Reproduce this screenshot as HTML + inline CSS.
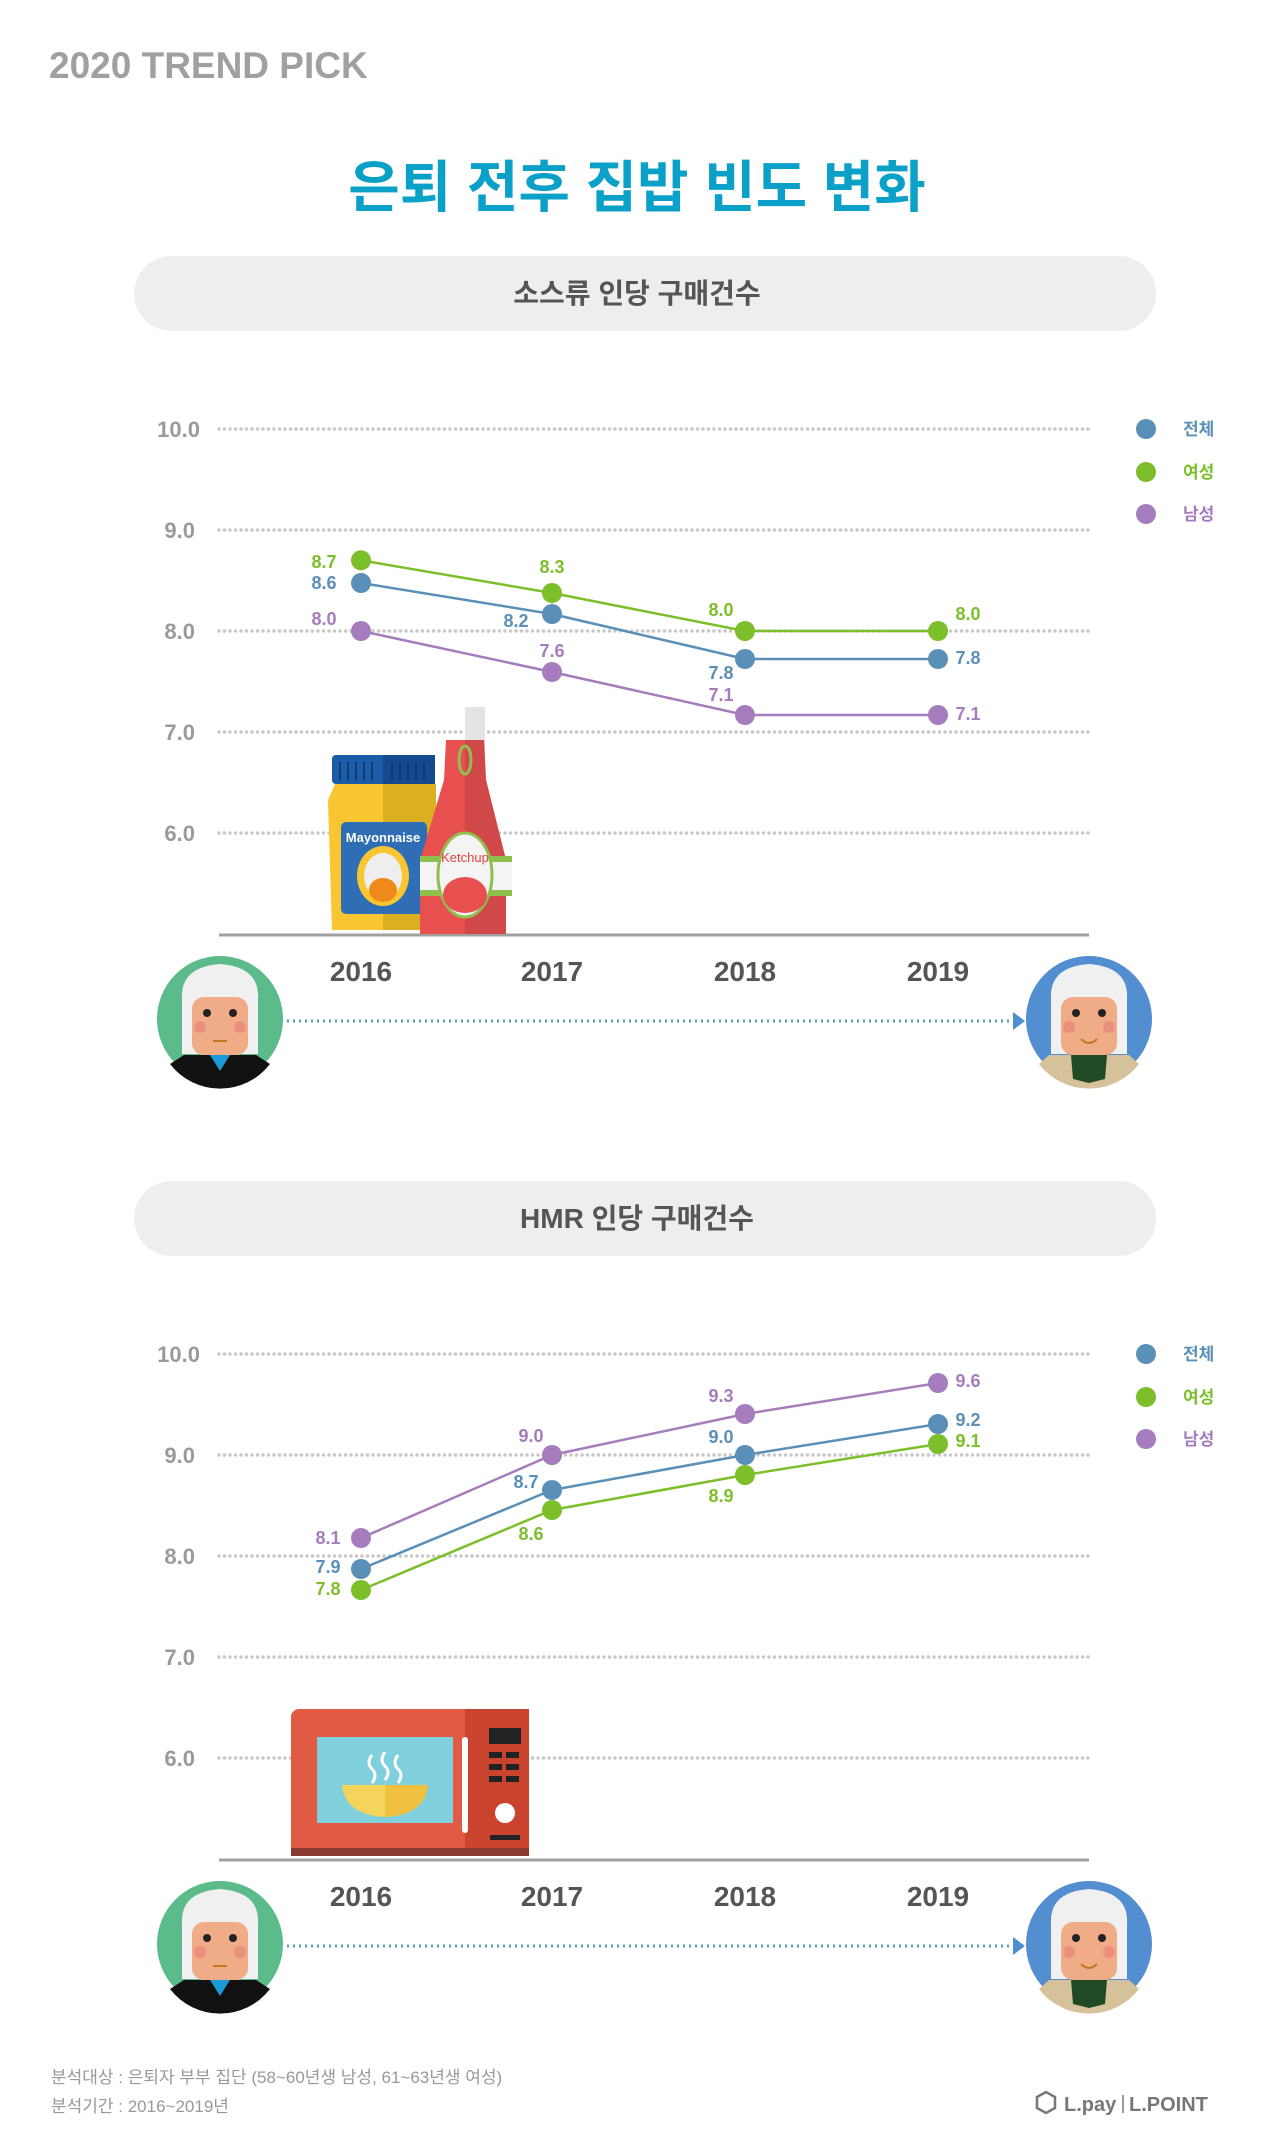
<!DOCTYPE html>
<html><head><meta charset="utf-8"><style>
html,body{margin:0;padding:0;background:#fff;}
svg{display:block;}
text{font-family:"Liberation Sans","Noto Sans CJK KR",sans-serif;}
</style></head><body>
<svg width="1280" height="2135" viewBox="0 0 1280 2135" xmlns="http://www.w3.org/2000/svg">
<defs>
<g id="oldL">
  <circle cx="0" cy="0" r="63" fill="#5bbb8a"/>
  <path d="M-38,-20 Q-40,-52 0,-55 Q40,-52 38,-20 L38,35 L-38,35 Z" fill="#f0f0f0"/>
  <rect x="-28" y="-22" width="56" height="58" rx="12" fill="#f0ab87"/>
  <circle cx="-13" cy="-6" r="4" fill="#222"/><circle cx="13" cy="-6" r="4" fill="#222"/>
  <circle cx="-20" cy="8" r="6" fill="#ec8f7f"/><circle cx="20" cy="8" r="6" fill="#ec8f7f"/>
  <path d="M-7,22 L7,22" stroke="#c9741f" stroke-width="2"/>
  <path d="M-36,36 L36,36 L50,45 A63,63 0 0 1 -50,45 Z" fill="#111"/>
  <path d="M-10,36 L0,52 L10,36 Z" fill="#1a9ad6"/>
</g>
<g id="oldR">
  <circle cx="0" cy="0" r="63" fill="#528ed0"/>
  <path d="M-38,-20 Q-40,-52 0,-55 Q40,-52 38,-20 L38,35 L-38,35 Z" fill="#f0f0f0"/>
  <rect x="-28" y="-22" width="56" height="58" rx="12" fill="#f0ab87"/>
  <circle cx="-13" cy="-6" r="4" fill="#222"/><circle cx="13" cy="-6" r="4" fill="#222"/>
  <circle cx="-20" cy="8" r="6" fill="#ec8f7f"/><circle cx="20" cy="8" r="6" fill="#ec8f7f"/>
  <path d="M-8,20 Q0,28 8,20" stroke="#c9741f" stroke-width="2" fill="none"/>
  <path d="M-40,36 L40,36 L50,45 A63,63 0 0 1 -50,45 Z" fill="#d6c29a"/>
  <path d="M-18,36 L18,36 L16,60 L0,64 L-16,60 Z" fill="#1f4a24"/>
</g>
<g id="grid" stroke="#c8c8c8" stroke-width="3.5" stroke-dasharray="0 5.5" stroke-linecap="round">
  <line x1="219" y1="429" x2="1089" y2="429"/><line x1="219" y1="530" x2="1089" y2="530"/>
  <line x1="219" y1="631" x2="1089" y2="631"/><line x1="219" y1="732" x2="1089" y2="732"/>
  <line x1="219" y1="833" x2="1089" y2="833"/>
</g>
<g id="axes">
  <g font-size="22" font-weight="bold" fill="#9a9a9a" text-anchor="end">
    <text x="200" y="437">10.0</text><text x="195" y="538">9.0</text><text x="195" y="639">8.0</text>
    <text x="195" y="740">7.0</text><text x="195" y="841">6.0</text>
  </g>
  <line x1="219" y1="935" x2="1089" y2="935" stroke="#a0a0a0" stroke-width="3"/>
  <g font-size="28" font-weight="bold" fill="#555" text-anchor="middle">
    <text x="361" y="981">2016</text><text x="552" y="981">2017</text><text x="745" y="981">2018</text><text x="938" y="981">2019</text>
  </g>
  <circle cx="1146" cy="429" r="10" fill="#5a8fb8"/><circle cx="1146" cy="472" r="10" fill="#7cbf2a"/><circle cx="1146" cy="514" r="10" fill="#a57dbc"/>
  <g font-size="17" font-weight="bold">
    <text x="1183" y="435" fill="#5a8fb8">전체</text><text x="1183" y="478" fill="#7cbf2a">여성</text><text x="1183" y="520" fill="#a57dbc">남성</text>
  </g>
  <use href="#oldL" x="220" y="1019"/>
  <use href="#oldR" x="1089" y="1019"/>
  <line x1="287" y1="1021" x2="1015" y2="1021" stroke="#4fa7a8" stroke-width="3" stroke-dasharray="2 4"/>
  <path d="M1013,1012 L1025,1021 L1013,1030 Z" fill="#4a8fd0"/>
</g>
</defs>

<text x="49" y="78" font-size="37" font-weight="bold" fill="#a0a0a0">2020 TREND PICK</text>
<text x="637" y="207" font-size="56" font-weight="bold" fill="#0aa0c8" text-anchor="middle">은퇴 전후 집밥 빈도 변화</text>

<!-- Chart 1 -->
<rect x="134" y="256" width="1022" height="75" rx="37.5" fill="#eeeeee"/>
<text x="637" y="303" font-size="28" font-weight="bold" fill="#555" text-anchor="middle">소스류 인당 구매건수</text>
<use href="#grid"/>
<use href="#axes"/>
<!-- mayo -->
<path d="M335,784 L432,784 L436,800 L438,930 L332,930 L328,800 Z" fill="#f9c530"/>
<rect x="383" y="784" width="53" height="146" fill="#dcae22"/>
<rect x="332" y="755" width="103" height="29" rx="4" fill="#1c5ba8"/>
<rect x="383" y="755" width="52" height="29" fill="#134a90"/>
<g stroke="#0e3a78" stroke-width="2"><line x1="340" y1="762" x2="340" y2="780"/><line x1="348" y1="762" x2="348" y2="780"/><line x1="356" y1="762" x2="356" y2="780"/><line x1="364" y1="762" x2="364" y2="780"/><line x1="372" y1="762" x2="372" y2="780"/><line x1="392" y1="762" x2="392" y2="780"/><line x1="400" y1="762" x2="400" y2="780"/><line x1="408" y1="762" x2="408" y2="780"/><line x1="416" y1="762" x2="416" y2="780"/><line x1="424" y1="762" x2="424" y2="780"/></g>
<rect x="341" y="822" width="86" height="92" rx="5" fill="#2f6db5"/>
<text x="383" y="842" font-size="13" font-weight="bold" fill="#fff" text-anchor="middle" font-family="Liberation Serif">Mayonnaise</text>
<ellipse cx="383" cy="876" rx="26" ry="30" fill="#f9c530"/>
<ellipse cx="383" cy="876" rx="19" ry="23" fill="#eee"/>
<ellipse cx="383" cy="890" rx="14" ry="12" fill="#ef8a1a"/>
<!-- ketchup -->
<rect x="465" y="707" width="20" height="45" fill="#e4e4e4"/>
<path d="M446,740 L484,740 L486,780 L506,860 L506,934 L420,934 L420,860 L444,780 Z" fill="#e85050"/>
<path d="M465,740 L484,740 L486,780 L506,860 L506,934 L465,934 Z" fill="#d04848"/>
<rect x="420" y="856" width="92" height="40" fill="#8fbf4d"/>
<rect x="420" y="862" width="92" height="28" fill="#f4f4f4"/>
<ellipse cx="465" cy="875" rx="27" ry="42" fill="#f4f4f4" stroke="#8fbf4d" stroke-width="3"/>
<ellipse cx="465" cy="895" rx="22" ry="18" fill="#e85050"/>
<text x="465" y="862" font-size="13" fill="#e84040" text-anchor="middle" font-family="Liberation Serif">Ketchup</text>
<ellipse cx="465" cy="760" rx="6" ry="14" fill="none" stroke="#8fbf4d" stroke-width="3"/>
<!-- series 1 -->
<g stroke-width="2.5" fill="none">
<polyline points="361,560.3 552,593 745,631 938,631" stroke="#7cbf2a"/>
<polyline points="361,583 552,614 745,659 938,659" stroke="#5a8fb8"/>
<polyline points="361,631 552,672 745,715 938,715" stroke="#a57dbc"/>
</g>
<g>
<circle cx="361" cy="560.3" r="10" fill="#7cbf2a"/><circle cx="552" cy="593" r="10" fill="#7cbf2a"/><circle cx="745" cy="631" r="10" fill="#7cbf2a"/><circle cx="938" cy="631" r="10" fill="#7cbf2a"/>
<circle cx="361" cy="583" r="10" fill="#5a8fb8"/><circle cx="552" cy="614" r="10" fill="#5a8fb8"/><circle cx="745" cy="659" r="10" fill="#5a8fb8"/><circle cx="938" cy="659" r="10" fill="#5a8fb8"/>
<circle cx="361" cy="631" r="10" fill="#a57dbc"/><circle cx="552" cy="672" r="10" fill="#a57dbc"/><circle cx="745" cy="715" r="10" fill="#a57dbc"/><circle cx="938" cy="715" r="10" fill="#a57dbc"/>
</g>
<g font-size="18" font-weight="bold" text-anchor="middle">
<text x="324" y="568" fill="#7cbf2a">8.7</text><text x="324" y="589" fill="#5a8fb8">8.6</text><text x="324" y="625" fill="#a57dbc">8.0</text>
<text x="552" y="573" fill="#7cbf2a">8.3</text><text x="516" y="627" fill="#5a8fb8">8.2</text><text x="552" y="657" fill="#a57dbc">7.6</text>
<text x="721" y="616" fill="#7cbf2a">8.0</text><text x="721" y="679" fill="#5a8fb8">7.8</text><text x="721" y="701" fill="#a57dbc">7.1</text>
<text x="968" y="620" fill="#7cbf2a">8.0</text><text x="968" y="664" fill="#5a8fb8">7.8</text><text x="968" y="720" fill="#a57dbc">7.1</text>
</g>

<!-- Chart 2 -->
<g transform="translate(0,925)">
<rect x="134" y="256" width="1022" height="75" rx="37.5" fill="#eeeeee"/>
<text x="637" y="303" font-size="28" font-weight="bold" fill="#555" text-anchor="middle">HMR 인당 구매건수</text>
<use href="#grid"/>
<use href="#axes"/>
</g>
<!-- microwave -->
<rect x="291" y="1709" width="238" height="147" rx="8" fill="#e05a44"/>
<rect x="465" y="1709" width="64" height="147" fill="#c9432e"/>
<rect x="291" y="1848" width="238" height="8" fill="#8a3a2e"/>
<rect x="317" y="1737" width="136" height="86" fill="#7fcfdc"/>
<path d="M342,1785 L428,1785 Q425,1815 385,1817 Q345,1815 342,1785 Z" fill="#f4d45a"/>
<path d="M385,1785 L428,1785 Q425,1815 385,1817 Z" fill="#f0c040"/>
<path d="M372,1755 q-6,8 0,14 q6,6 0,14 M385,1752 q-6,8 0,14 q6,6 0,14 M398,1755 q-6,8 0,14 q6,6 0,14" stroke="#fff" stroke-width="3" fill="none"/>
<rect x="462" y="1737" width="6" height="96" rx="3" fill="#fff"/>
<rect x="489" y="1728" width="32" height="16" fill="#222"/>
<g fill="#222"><rect x="489" y="1752" width="13" height="6"/><rect x="506" y="1752" width="13" height="6"/><rect x="489" y="1764" width="13" height="6"/><rect x="506" y="1764" width="13" height="6"/><rect x="489" y="1776" width="13" height="6"/><rect x="506" y="1776" width="13" height="6"/></g>
<circle cx="505" cy="1813" r="10" fill="#fff"/>
<rect x="490" y="1835" width="30" height="5" fill="#222"/>
<!-- series 2 -->
<g stroke-width="2.5" fill="none">
<polyline points="361,1538 552,1455 745,1414 938,1383" stroke="#a57dbc"/>
<polyline points="361,1569 552,1490 745,1455 938,1424" stroke="#5a8fb8"/>
<polyline points="361,1590 552,1510 745,1475 938,1444" stroke="#7cbf2a"/>
</g>
<g>
<circle cx="361" cy="1538" r="10" fill="#a57dbc"/><circle cx="552" cy="1455" r="10" fill="#a57dbc"/><circle cx="745" cy="1414" r="10" fill="#a57dbc"/><circle cx="938" cy="1383" r="10" fill="#a57dbc"/>
<circle cx="361" cy="1569" r="10" fill="#5a8fb8"/><circle cx="552" cy="1490" r="10" fill="#5a8fb8"/><circle cx="745" cy="1455" r="10" fill="#5a8fb8"/><circle cx="938" cy="1424" r="10" fill="#5a8fb8"/>
<circle cx="361" cy="1590" r="10" fill="#7cbf2a"/><circle cx="552" cy="1510" r="10" fill="#7cbf2a"/><circle cx="745" cy="1475" r="10" fill="#7cbf2a"/><circle cx="938" cy="1444" r="10" fill="#7cbf2a"/>
</g>
<g font-size="18" font-weight="bold" text-anchor="middle">
<text x="328" y="1544" fill="#a57dbc">8.1</text><text x="328" y="1573" fill="#5a8fb8">7.9</text><text x="328" y="1595" fill="#7cbf2a">7.8</text>
<text x="531" y="1442" fill="#a57dbc">9.0</text><text x="526" y="1488" fill="#5a8fb8">8.7</text><text x="531" y="1540" fill="#7cbf2a">8.6</text>
<text x="721" y="1402" fill="#a57dbc">9.3</text><text x="721" y="1443" fill="#5a8fb8">9.0</text><text x="721" y="1502" fill="#7cbf2a">8.9</text>
<text x="968" y="1387" fill="#a57dbc">9.6</text><text x="968" y="1426" fill="#5a8fb8">9.2</text><text x="968" y="1447" fill="#7cbf2a">9.1</text>
</g>

<!-- footer -->
<g font-size="17" fill="#999">
<text x="51" y="2083">분석대상 : 은퇴자 부부 집단 (58~60년생 남성, 61~63년생 여성)</text>
<text x="51" y="2112">분석기간 : 2016~2019년</text>
</g>
<path d="M1037,2097 l9,-5 l9,5 v11 l-9,5 l-9,-5 Z" fill="none" stroke="#777" stroke-width="2.5"/>
<text x="1064" y="2111" font-size="20" font-weight="bold" fill="#777">L.pay</text>
<rect x="1122" y="2095" width="2" height="18" fill="#999"/>
<text x="1129" y="2111" font-size="20" font-weight="bold" fill="#777">L.POINT</text>
</svg>
</body></html>
